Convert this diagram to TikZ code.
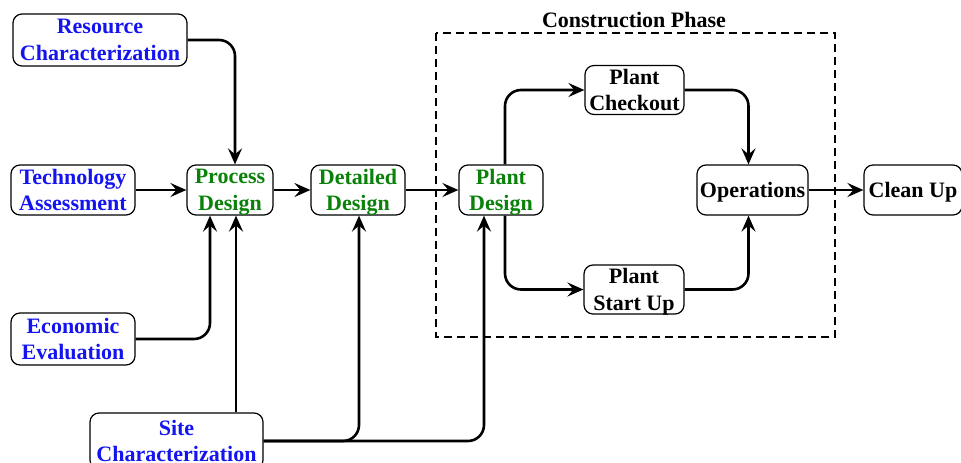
\documentclass[tikz,border=0pt]{standalone}
\usepackage{fontspec}
\setmainfont{Liberation Serif}[BoldFont={Liberation Serif Bold}]
\usetikzlibrary{arrows.meta}
\definecolor{inblue}{RGB}{20,20,240}
\definecolor{dgreen}{RGB}{10,130,10}
\tikzset{
  box/.style={draw=black, line width=1.2pt, rounded corners=9pt, fill=white,
    inner sep=0pt, align=center, text depth=0pt,
    font=\fontsize{22}{26.5}\selectfont\bfseries},
  inbox/.style={box, text=inblue},
  desbox/.style={box, text=dgreen},
  arr/.style={line width=2.6pt, rounded corners=16pt,
    -{Stealth[length=16pt,width=14pt,inset=6pt]}},
  phase/.style={draw=black, line width=1.3pt, dash pattern=on 8pt off 5pt},
}
\begin{document}
\begin{tikzpicture}[x=1pt,y=-1pt]
\useasboundingbox (0,0) rectangle (961,463);
% phase frame
\draw[phase] (436,33) rectangle (835,337);
\node[font=\fontsize{22}{24}\selectfont\bfseries] (title) at (634,20) {Construction Phase};
% nodes
\node[inbox, minimum width=174pt, minimum height=52pt] (res) at (100,40) {Resource\\Characterization};
\node[inbox, minimum width=124pt, minimum height=50pt] (tech) at (73,190) {Technology\\Assessment};
\node[inbox, minimum width=124pt, minimum height=52pt] (eco) at (73,339) {Economic\\Evaluation};
\node[inbox, minimum width=173pt, minimum height=56pt] (site) at (176.5,441) {Site\\Characterization};
\node[desbox, minimum width=86pt, minimum height=50pt] (pd) at (230,190) {Process\\Design};
\node[desbox, minimum width=94pt, minimum height=50pt] (dd) at (358,190) {Detailed\\Design};
\node[desbox, minimum width=84pt, minimum height=50pt] (pl) at (501,190) {Plant\\Design};
\node[box, minimum width=99pt, minimum height=49pt] (pc) at (634.5,90) {Plant\\Checkout};
\node[box, minimum width=100pt, minimum height=49pt] (ps) at (634,289.5) {Plant\\Start Up};
\node[box, minimum width=111pt, minimum height=50pt] (ops) at (752.5,190) {Operations};
\node[box, minimum width=98pt, minimum height=50pt] (cu) at (913,190) {Clean Up};
% connectors
\draw[arr] (res.east) -| ([xshift=5pt]pd.north);
\draw[arr] (tech) -- (pd);
\draw[arr] (pd) -- (dd);
\draw[arr] (dd) -- (pl);
\draw[arr] (eco.east) -| ([xshift=-20pt]pd.south);
\coordinate (sp) at ([xshift=6pt]pd.south);
\draw[arr] (site.north -| sp) -- (sp);
\draw[arr] (site.east) -| ([xshift=1pt]dd.south);
\draw[arr] (site.east) -| ([xshift=-17pt]pl.south);
\draw[arr] ([xshift=4pt]pl.north) |- (pc.west);
\draw[arr] ([xshift=4pt]pl.south) |- (ps.west);
\draw[arr] (pc.east) -| ([xshift=-4pt]ops.north);
\draw[arr] (ps.east) -| ([xshift=-4pt]ops.south);
\draw[arr] (ops) -- (cu);
\end{tikzpicture}
\end{document}
